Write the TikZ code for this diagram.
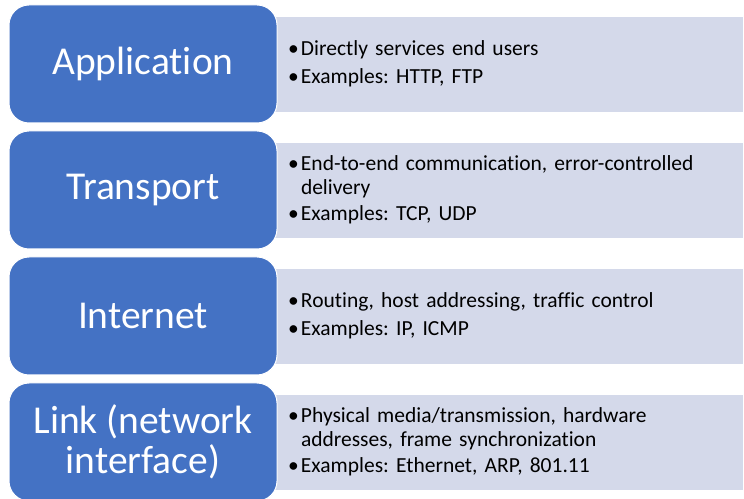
\documentclass[tikz,border=0pt]{standalone}
\usepackage{fontspec}
\setmainfont{Carlito}[Ligatures=NoCommon]
\usepackage{tikz}
\definecolor{layerblue}{HTML}{4472C4}
\definecolor{layerlight}{HTML}{D4D9EA}
\newcommand{\bul}{\makebox[13pt][l]{\textbullet}}
\newcommand{\cont}{\hspace*{13pt}}
\frenchspacing

\begin{document}
\begin{tikzpicture}[x=1pt,y=1pt,
    layer/.style={rectangle,rounded corners=20pt,fill=layerblue,draw=white,line width=1pt,
        minimum width=268pt,minimum height=118pt,text=white,align=center,
        font=\fontsize{39.5}{40}\selectfont},
    desc/.style={rectangle,fill=layerlight,draw=white,line width=0.6pt,
        minimum width=483pt,minimum height=96pt,text width=427pt,inner xsep=28pt,
        align=left,font=\fontsize{21.5}{24}\selectfont}]
    \useasboundingbox (0,0) rectangle (744,498);
    % descriptions behind the layers
    \node[desc] (appd) at (501.5,434) {\bul Directly services end users\\[4pt]\bul Examples: HTTP, FTP};
    \node[desc] (transd) at (501.5,308) {\bul End-to-end communication, error-controlled\\\cont delivery\\[2pt]\bul Examples: TCP, UDP};
    \node[desc] (inetd) at (501.5,182) {\bul Routing, host addressing, traffic control\\[4pt]\bul Examples: IP, ICMP};
    \node[desc] (linkd) at (501.5,56) {\bul Physical media/transmission, hardware\\\cont addresses, frame synchronization\\[2pt]\bul Examples: Ethernet, ARP, 801.11};
    % layers
    \node[layer] (app) at (143,434) {Application};
    \node[layer] (trans) at (143,308) {Transport};
    \node[layer] (inet) at (143,182) {Internet};
    \node[layer] (link) at (143,56) {Link (network\\interface)};
\end{tikzpicture}
\end{document}
